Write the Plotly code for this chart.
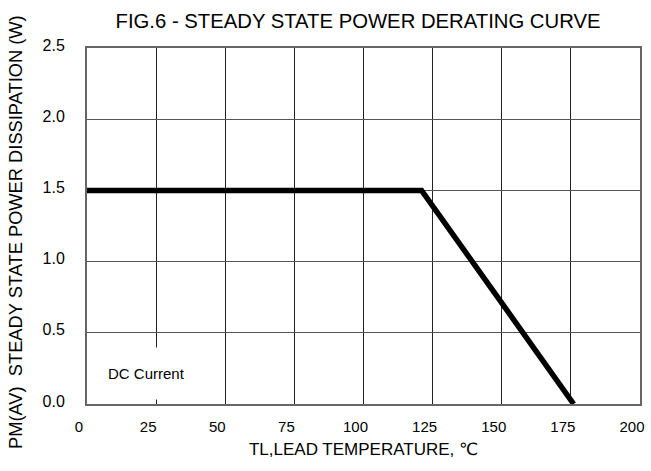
import plotly.graph_objects as go

# Data
temperature_c = [0, 121, 176]          # lead temperature (°C)
power_w = [1.5, 1.5, 0.0]              # steady state power dissipation (W)

x_ticks = [0, 25, 50, 75, 100, 125, 150, 175, 200]
x_tick_text = [str(v) for v in x_ticks]
y_ticks = [0.0, 0.5, 1.0, 1.5, 2.0, 2.5]
y_tick_text = ["%.1f" % v for v in y_ticks]

title_text = "FIG.6 - STEADY STATE POWER DERATING CURVE"
x_title = "TL,LEAD TEMPERATURE, \u2103"
y_title = "PM(AV)  STEADY STATE POWER DISSIPATION (W)"
note_text = "DC Current"
note_pos = (21.6, 0.213)

FONT = "Liberation Sans, Arial, DejaVu Sans, sans-serif"

W, H = 651, 471
L, R, T, B = 87, 11, 48, 67

fig = go.Figure()
fig.add_trace(go.Scatter(
    x=temperature_c, y=power_w, mode="lines",
    line=dict(color="black", width=5.5),
    showlegend=False, hoverinfo="skip",
))

fig.add_annotation(
    x=note_pos[0], y=note_pos[1], xref="x", yref="y",
    text=note_text, showarrow=False,
    font=dict(family=FONT, size=15, color="black"),
    bgcolor="white", borderpad=17,
)

# y-axis title as a rotated annotation (sits slightly below the plot centre)
plot_h = H - T - B
plot_w = W - L - R
fig.add_annotation(
    x=(15 - L) / plot_w, y=1 - (232 - T) / plot_h,
    xref="paper", yref="paper", xanchor="center", yanchor="middle",
    text=y_title, textangle=-90, showarrow=False,
    font=dict(family=FONT, size=18.3, color="black"),
)

fig.update_layout(
    width=W, height=H,
    margin=dict(l=L, r=R, t=T, b=B, autoexpand=False),
    paper_bgcolor="white", plot_bgcolor="white",
    font=dict(family=FONT, color="black"),
    title=dict(text=title_text, x=358 / W, xanchor="center",
               y=1 - 21 / H, yanchor="middle",
               font=dict(family=FONT, size=20.3, color="black")),
)

fig.update_xaxes(
    range=[0, 200], tickvals=x_ticks, ticktext=x_tick_text,
    showgrid=True, gridcolor="#222", gridwidth=1,
    showline=True, linecolor="#666", linewidth=2, mirror=True,
    zeroline=False, ticks="", automargin=False,
    tickfont=dict(family=FONT, size=15, color="black"),
    ticklabelshift=-8, ticklabelstandoff=8,
    title=dict(text=x_title, font=dict(family=FONT, size=17, color="black"),
               standoff=9),
)
fig.update_yaxes(
    range=[0, 2.5], tickvals=y_ticks, ticktext=y_tick_text,
    showgrid=True, gridcolor="#555", gridwidth=1,
    showline=True, linecolor="#666", linewidth=2, mirror=True,
    zeroline=False, ticks="", automargin=False,
    tickfont=dict(family=FONT, size=16, color="black"),
    ticklabelshift=-3, ticklabelstandoff=17,
)

fig.write_html(
    "out.html",
    config={"displayModeBar": False},
    post_script="document.body.style.margin='0';document.body.style.overflow='hidden';",
)
